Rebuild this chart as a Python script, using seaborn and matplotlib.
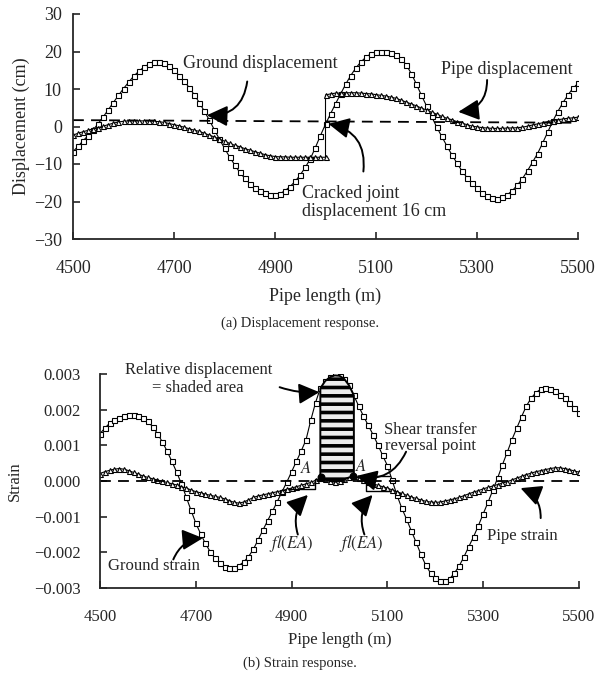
import numpy as np
import pandas as pd
import matplotlib
matplotlib.use("Agg")
import matplotlib.pyplot as plt
import seaborn as sns
from matplotlib.ticker import FuncFormatter

# ---------------- data ----------------
pipe_len = np.arange(4500, 5501, 10)          # m, sampling grid of the curves

ground_disp = [-6.7, -5.3, -3.8, -2.4, -0.9, 0.8, 2.6, 4.5, 6.4, 8.3,
               10.1, 11.8, 13.4, 14.7, 15.8, 16.6, 17.1, 17.3, 16.9, 16.1,
               15.0, 13.6, 12.1, 10.4, 8.5, 6.4, 4.1, 1.7, -0.9, -3.4,
               -5.8, -8.1, -10.2, -12.2, -13.8, -15.2, -16.3, -17.2, -17.8, -18.2,
               -18.3, -17.9, -17.1, -16.0, -14.6, -12.9, -10.9, -8.6, -5.6, -2.4,
               0.6, 3.4, 6.1, 8.7, 11.3, 13.6, 15.6, 17.2, 18.5, 19.4,
               19.9, 20.0, 19.9, 19.6, 19.1, 18.1, 16.4, 14.1, 11.3, 8.3,
               5.5, 2.7, -0.1, -2.6, -5.1, -7.5, -9.7, -11.8, -13.6, -15.1,
               -16.5, -17.7, -18.6, -19.1, -19.2, -18.9, -18.2, -17.1, -15.6, -13.9,
               -11.8, -9.5, -7.2, -4.4, -1.5, 1.4, 4.0, 6.3, 8.4, 10.2,
               11.5]

# pipe displacement, left of cracked joint (4500..5000) and right (5000..5500)
pipe_disp_left = [-2.3, -1.8, -1.4, -1.0, -0.6, -0.3, 0.1, 0.5, 0.9, 1.2,
                  1.4, 1.5, 1.5, 1.5, 1.5, 1.5, 1.4, 1.3, 1.1, 0.8,
                  0.5, 0.2, -0.2, -0.6, -1.0, -1.3, -1.8, -2.3, -2.8, -3.4,
                  -3.9, -4.5, -5.0, -5.4, -5.9, -6.3, -6.7, -7.1, -7.5, -7.8,
                  -8.0, -8.1, -8.1, -8.2, -8.2, -8.2, -8.2, -8.2, -8.2, -8.2,
                  -8.2]
pipe_disp_right = [8.4, 8.7, 8.9, 8.9, 9.0, 9.0, 9.0, 8.9, 8.8, 8.7,
                   8.5, 8.3, 8.1, 7.8, 7.5, 7.0, 6.5, 6.0, 5.5, 4.9,
                   4.4, 3.8, 3.3, 2.7, 2.2, 1.8, 1.3, 0.9, 0.5, 0.1,
                   -0.1, -0.3, -0.4, -0.5, -0.5, -0.5, -0.4, -0.4, -0.3, -0.2,
                   0.1, 0.4, 0.7, 1.0, 1.3, 1.6, 1.8, 2.0, 2.2, 2.3,
                   2.5]

# reference (dashed) line in the displacement plot
ref_disp_x = [4500, 5500]
ref_disp_y = [1.7, 1.0]

# strains, in units of 1e-3
ground_strain_e3 = [1.33, 1.48, 1.62, 1.72, 1.78, 1.82, 1.84, 1.84, 1.82, 1.76,
                    1.67, 1.52, 1.33, 1.10, 0.84, 0.55, 0.25, -0.08, -0.45, -0.82,
                    -1.18, -1.48, -1.75, -1.98, -2.16, -2.30, -2.40, -2.44, -2.43, -2.37,
                    -2.27, -2.12, -1.92, -1.65, -1.38, -1.11, -0.85, -0.58, -0.30, -0.03,
                    0.26, 0.55, 0.84, 1.15, 1.70, 2.20, 2.60, 2.80, 2.91, 2.96,
                    2.95, 2.86, 2.68, 2.40, 2.10, 1.82, 1.56, 1.30, 1.02, 0.72,
                    0.43, 0.02, -0.40, -0.76, -1.07, -1.40, -1.72, -2.06, -2.36, -2.58,
                    -2.72, -2.80, -2.81, -2.74, -2.58, -2.38, -2.12, -1.84, -1.56, -1.25,
                    -0.92, -0.60, -0.26, 0.08, 0.45, 0.80, 1.16, 1.48, 1.80, 2.10,
                    2.32, 2.48, 2.57, 2.60, 2.58, 2.52, 2.42, 2.33, 2.20, 2.05,
                    1.90]
pipe_strain_e3 = [0.21, 0.26, 0.30, 0.33, 0.35, 0.33, 0.29, 0.24, 0.19, 0.14,
                  0.10, 0.06, 0.03, -0.01, -0.04, -0.08, -0.11, -0.16, -0.20, -0.25,
                  -0.30, -0.33, -0.37, -0.40, -0.43, -0.46, -0.50, -0.55, -0.60, -0.62,
                  -0.59, -0.53, -0.46, -0.42, -0.39, -0.36, -0.33, -0.30, -0.27, -0.23,
                  -0.20, -0.16, -0.12, -0.08, -0.04, 0.02, 0.08, 0.05, 0.00, -0.02,
                  0.00, 0.05, 0.10, 0.13, 0.09, 0.03, -0.03, -0.08, -0.12, -0.16,
                  -0.20, -0.25, -0.30, -0.35, -0.40, -0.45, -0.49, -0.53, -0.57, -0.59,
                  -0.60, -0.59, -0.56, -0.53, -0.50, -0.46, -0.41, -0.36, -0.31, -0.27,
                  -0.22, -0.18, -0.14, -0.10, -0.06, -0.02, 0.03, 0.08, 0.13, 0.18,
                  0.22, 0.26, 0.29, 0.32, 0.35, 0.37, 0.37, 0.35, 0.32, 0.28,
                  0.25]

shaded_range = (4960, 5030)                  # relative displacement region
reversal_pts_x = [4962, 5028]
reversal_pts_e3 = [0.10, 0.14]

# fl/(EA) brackets (x, strain e-3)
bracket_left_x = [4948, 4948, 4894]
bracket_left_e3 = [0.05, -0.22, -0.22]
bracket_right_x = [5106, 5056, 5056, 5106]
bracket_right_e3 = [0.14, 0.14, -0.28, -0.28]

x_ticks = [4500, 4700, 4900, 5100, 5300, 5500]
disp_ticks = [-30, -20, -10, 0, 10, 20, 30]
strain_ticks = [-0.003, -0.002, -0.001, 0.0, 0.001, 0.002, 0.003]

# ---------------- style ----------------
sns.set_style("ticks")
plt.rcParams["font.family"] = ["Liberation Serif", "DejaVu Serif"]
plt.rcParams["mathtext.fontset"] = "stix"
plt.rcParams["axes.linewidth"] = 1.3
plt.rcParams["hatch.linewidth"] = 2.6

fig = plt.figure(figsize=(5.95, 6.76), dpi=100)
ax1 = fig.add_axes([73 / 595, 1 - 239 / 676, 505 / 595, 225 / 676])
ax2 = fig.add_axes([100 / 595, 1 - 588 / 676, 479 / 595, 214 / 676])

mk = dict(color="black", linewidth=0.8, markerfacecolor="white",
          markeredgecolor="black", markeredgewidth=0.8, markersize=3.6)

arrow_kw = dict(arrowstyle="-|>,head_length=0.9,head_width=0.45",
                color="black", lw=1.4, shrinkA=0, shrinkB=0, mutation_scale=14)

# ---------------- (a) displacement ----------------
df_g = pd.DataFrame({"x": pipe_len, "y": ground_disp})
pipe_x = np.concatenate([pipe_len[:51], pipe_len[50:]])
pipe_y = np.concatenate([pipe_disp_left, pipe_disp_right])
df_p = pd.DataFrame({"x": pipe_x, "y": pipe_y})

sns.lineplot(data=df_g, x="x", y="y", ax=ax1, marker="s", **mk)
sns.lineplot(data=df_p, x="x", y="y", ax=ax1, marker="^", sort=False,
             estimator=None, **mk)
ax1.plot(ref_disp_x, ref_disp_y, color="black", lw=1.3, dashes=(6, 4))

ax1.set_xlim(4500, 5500)
ax1.set_ylim(-30, 30)
ax1.set_xticks(x_ticks)
ax1.set_yticks(disp_ticks)
ax1.set_xlabel("Pipe length (m)", fontsize=13)
ax1.set_ylabel("Displacement (cm)", fontsize=13)
ax1.yaxis.set_label_coords(-0.085, 0.5)
ax1.xaxis.set_label_coords(0.5, -0.215)

ax1.text(4718, 16.9, "Ground displacement", fontsize=13, ha="left", va="center")
ax1.annotate("", xy=(4765, 3.0), xytext=(4845, 12.0),
             arrowprops=dict(connectionstyle="arc3,rad=-0.45", **arrow_kw))
ax1.text(5360, 15.1, "Pipe displacement", fontsize=13, ha="center", va="center")
ax1.annotate("", xy=(5263, 3.9), xytext=(5320, 12.4),
             arrowprops=dict(connectionstyle="arc3,rad=-0.45", **arrow_kw))
ax1.text(4953, -20.3, "Cracked joint\ndisplacement 16 cm", fontsize=13,
         ha="left", va="center", linespacing=1.1)
ax1.annotate("", xy=(5006, 0.7), xytext=(5075, -12.0),
             arrowprops=dict(connectionstyle="arc3,rad=0.45", **arrow_kw))

# ---------------- (b) strain ----------------
gs = np.array(ground_strain_e3) * 1e-3
ps = np.array(pipe_strain_e3) * 1e-3
df_gs = pd.DataFrame({"x": pipe_len, "y": gs})
df_ps = pd.DataFrame({"x": pipe_len, "y": ps})

sns.lineplot(data=df_gs, x="x", y="y", ax=ax2, marker="s", **mk)
sns.lineplot(data=df_ps, x="x", y="y", ax=ax2, marker="^", **mk)
ax2.axhline(0, color="black", lw=1.3, dashes=(6, 4))

mask = (pipe_len >= shaded_range[0]) & (pipe_len <= shaded_range[1])
ax2.fill_between(pipe_len[mask], ps[mask], gs[mask], facecolor="#ececec",
                 edgecolor="black", hatch="--", linewidth=1.4, zorder=5)
ax2.scatter(reversal_pts_x, np.array(reversal_pts_e3) * 1e-3, s=22,
            color="black", zorder=6)
ax2.plot(bracket_left_x, np.array(bracket_left_e3) * 1e-3, color="black", lw=1.0)
ax2.plot(bracket_right_x, np.array(bracket_right_e3) * 1e-3, color="black", lw=1.0)

ax2.set_xlim(4500, 5500)
ax2.set_ylim(-0.003, 0.003)
ax2.set_xticks(x_ticks)
ax2.set_yticks(strain_ticks)
ax2.yaxis.set_major_formatter(FuncFormatter(
    lambda v, p: f"{v:.3f}".replace("-", "\u2212") if abs(v) > 1e-9 else "0.000"))
ax2.set_xlabel("Pipe length (m)", fontsize=12)
ax2.set_ylabel("Strain", fontsize=12)
ax2.yaxis.set_label_coords(-0.16, 0.5)
ax2.xaxis.set_label_coords(0.5, -0.205)

ax2.text(4705, 0.00285, "Relative displacement\n= shaded area", fontsize=12,
         ha="center", va="center", linespacing=1.15)
ax2.annotate("", xy=(4958, 0.00249), xytext=(4875, 0.00263),
             arrowprops=dict(connectionstyle="arc3,rad=0.1", **arrow_kw))
ax2.text(5190, 0.0012, "Shear transfer\nreversal point", fontsize=12,
         ha="center", va="center", linespacing=0.95)
ax2.annotate("", xy=(5035, 0.00014), xytext=(5139, 0.00082),
             arrowprops=dict(connectionstyle="arc3,rad=-0.4", **arrow_kw))
ax2.text(4931, 0.00035, "$A$", fontsize=12, ha="center", va="center")
ax2.text(5045, 0.00040, "$A$", fontsize=12, ha="center", va="center")
ax2.text(4899, -0.00174, "$fl(EA)$", fontsize=12, ha="center", va="center")
ax2.text(5045, -0.00174, "$fl(EA)$", fontsize=12, ha="center", va="center")
ax2.annotate("", xy=(4934, -0.00039), xytext=(4913, -0.0015),
             arrowprops=dict(connectionstyle="arc3,rad=-0.3", **arrow_kw))
ax2.annotate("", xy=(5069, -0.00039), xytext=(5052, -0.0015),
             arrowprops=dict(connectionstyle="arc3,rad=-0.3", **arrow_kw))
ax2.text(4613, -0.00239, "Ground strain", fontsize=12, ha="center", va="center")
ax2.annotate("", xy=(4715, -0.0016), xytext=(4653, -0.0022),
             arrowprops=dict(connectionstyle="arc3,rad=-0.3", **arrow_kw))
ax2.text(5381, -0.00155, "Pipe strain", fontsize=12, ha="center", va="center")
ax2.annotate("", xy=(5378, -0.0002), xytext=(5420, -0.00104),
             arrowprops=dict(connectionstyle="arc3,rad=0.35", **arrow_kw))

for ax, fs in ((ax1, 13), (ax2, 12)):
    sns.despine(ax=ax)
    ax.tick_params(direction="in", length=5, width=1.2, labelsize=fs)
    ax.tick_params(axis="x", pad=15)
    ax.tick_params(axis="y", pad=8 if ax is ax1 else 14)

fig.text(0.504, 1 - 323 / 676, "(a) Displacement response.", fontsize=10.5,
         ha="center", va="center")
fig.text(0.504, 1 - 663 / 676, "(b) Strain response.", fontsize=10.5,
         ha="center", va="center")

fig.savefig("out.png", dpi=100)
